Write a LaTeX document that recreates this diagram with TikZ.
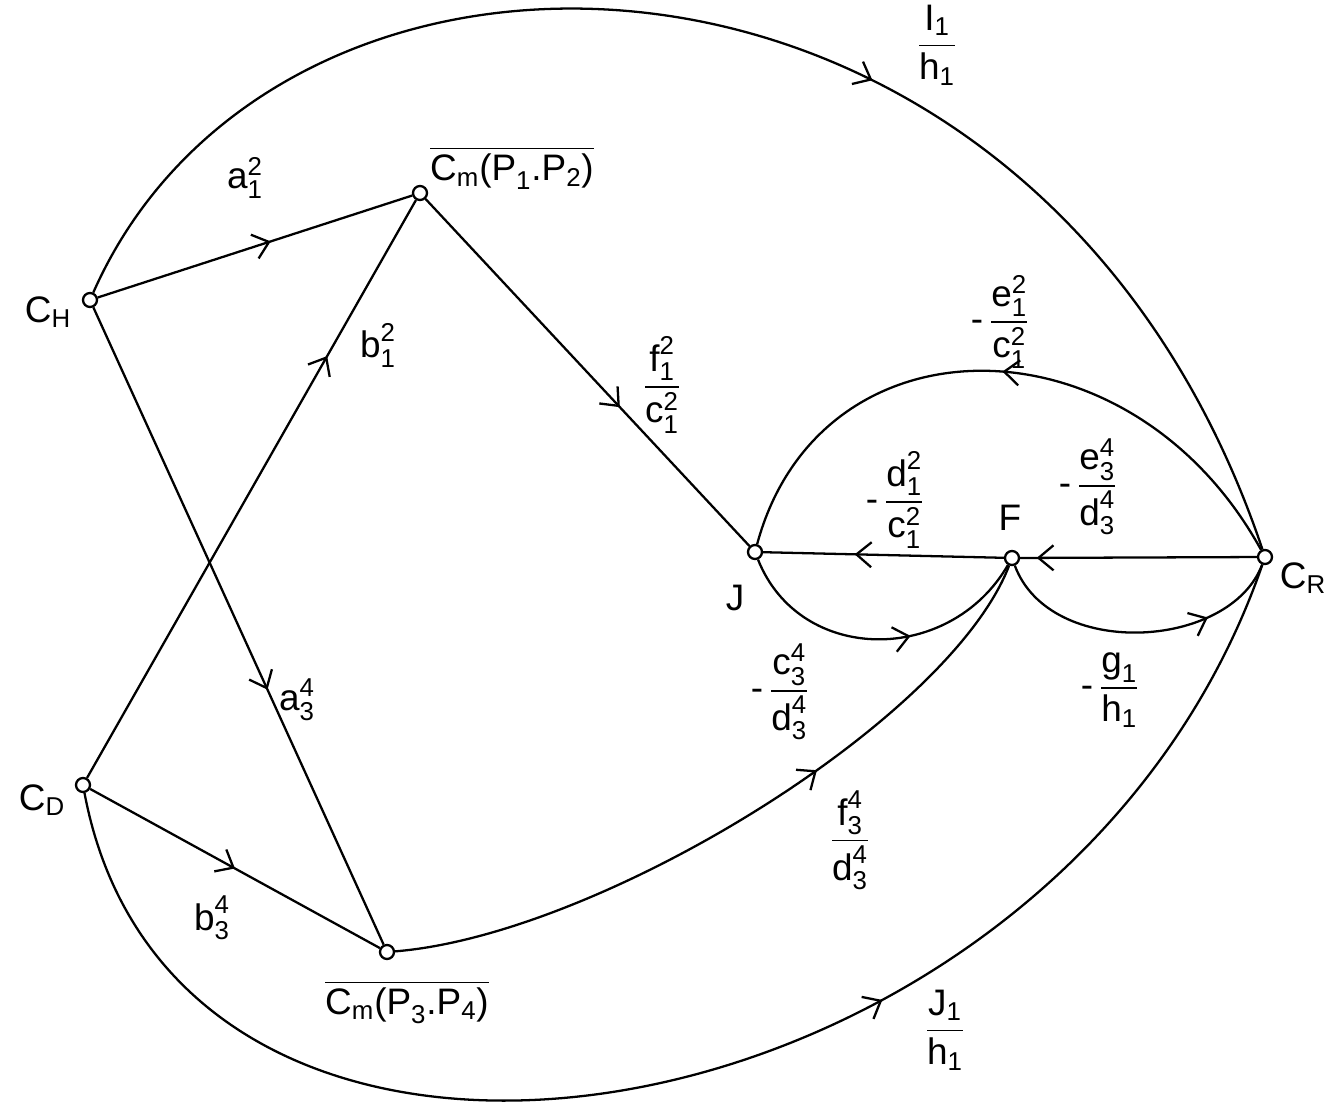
\documentclass[tikz,border=0pt]{standalone}
\usepackage{amsmath}
\usepackage{fontspec}
\setmainfont{Liberation Sans}
\usetikzlibrary{arrows.meta, decorations.markings}
\newcommand{\sv}[3]{\ensuremath{\text{#1}_{\text{#2}}^{\text{#3}}}}
\newcommand{\fr}[2]{\ensuremath{\dfrac{#1}{#2}}}
\newcommand{\nfr}[2]{\ensuremath{\text{-}\,\dfrac{#1}{#2}}}
\tikzset{
  every picture/.style={line width=1.3pt},
  vtx/.style={circle, draw, fill=white, minimum size=0.28cm, inner sep=0pt},
  lab/.style={font=\fontsize{21}{25}\selectfont, inner sep=1pt},
  edge/.style={draw, line width=1.3pt},
  midarrow/.style={postaction={decorate}, decoration={markings,
    mark=at position #1 with {\arrow{Straight Barb[length=3mm,width=5mm]}}}},
  midarrow/.default=0.55,
}
\begin{document}
\begin{tikzpicture}[x=0.02cm, y=-0.02cm]
  \useasboundingbox (0,0) rectangle (1336,1112);
  % vertices
  \node[vtx] (ch) at (90,300) {};
  \node[vtx] (cm12) at (420,193) {};
  \node[vtx] (j) at (755,552) {};
  \node[vtx] (f) at (1012,558) {};
  \node[vtx] (cr) at (1265,557) {};
  \node[vtx] (cd) at (83,785) {};
  \node[vtx] (cm34) at (387,952) {};
  % vertex names
  \node[lab] (lch) at (48,312) {C$_{\text{H}}$};
  \node[lab] (lcd) at (42,800) {C$_{\text{D}}$};
  \node[lab] (lcr) at (1303,578) {C$_{\text{R}}$};
  \node[lab] (lj) at (735,598) {J};
  \node[lab] (lf) at (1010,518) {F};
  \node[lab] (lcm12) at (512,168) {$\overline{\text{C}_{\text{m}}\text{(P}_{\text{1}}\text{.P}_{\text{2}}\text{)}}$};
  \node[lab] (lcm34) at (407,1002) {$\overline{\text{C}_{\text{m}}\text{(P}_{\text{3}}\text{.P}_{\text{4}}\text{)}}$};
  % straight edges
  \draw[edge, midarrow=0.55] (ch) -- (cm12);
  \draw[edge, midarrow=0.73] (cd) -- (cm12);
  \draw[edge, midarrow=0.6] (ch) -- (cm34);
  \draw[edge, midarrow=0.5] (cd) -- (cm34);
  \draw[edge, midarrow=0.6] (cm12) -- (j);
  \draw[edge, midarrow=0.62] (f) -- (j);
  \draw[edge, midarrow=0.93] (cr) -- (f);
  % curved edges
  \draw[edge, midarrow=0.59] (ch) .. controls (280,-130) and (1040,-110) .. (cr);
  \draw[edge, midarrow=0.62] (cd) .. controls (180,1300) and (1060,1150) .. (cr);
  \draw[edge, midarrow=0.5] (cr) .. controls (1130,312) and (820,312) .. (j);
  \draw[edge, midarrow=0.6] (j) .. controls (800,665) and (950,665) .. (f);
  \draw[edge, midarrow=0.74] (f) .. controls (1050,660) and (1230,650) .. (cr);
  \draw[edge, midarrow=0.62] (cm34) .. controls (600,935) and (950,720) .. (f);
  % edge labels
  \node[lab] (la12) at (245,178) {\sv{a}{1}{2}};
  \node[lab] (lb12) at (378,345) {\sv{b}{1}{2}};
  \node[lab] (la34) at (297,700) {\sv{a}{3}{4}};
  \node[lab] (lb34) at (212,918) {\sv{b}{3}{4}};
  \node[lab] (lfc) at (662,385) {\fr{\sv{f}{1}{2}}{\sv{c}{1}{2}}};
  \node[lab] (lec) at (1000,322) {\nfr{\sv{e}{1}{2}}{\sv{c}{1}{2}}};
  \node[lab] (ldc) at (895,500) {\nfr{\sv{d}{1}{2}}{\sv{c}{1}{2}}};
  \node[lab] (led) at (1088,487) {\nfr{\sv{e}{3}{4}}{\sv{d}{3}{4}}};
  \node[lab] (lcd34) at (780,692) {\nfr{\sv{c}{3}{4}}{\sv{d}{3}{4}}};
  \node[lab] (lgh) at (1110,690) {\nfr{\sv{g}{1}{}}{\text{h}_{\text{1}}}};
  \node[lab] (lfd) at (850,840) {\fr{\sv{f}{3}{4}}{\sv{d}{3}{4}}};
  \node[lab] (lih) at (937,45) {\fr{\text{I}_{\text{1}}}{\text{h}_{\text{1}}}};
  \node[lab] (ljh) at (945,1030) {\fr{\text{J}_{\text{1}}}{\text{h}_{\text{1}}}};
\end{tikzpicture}
\end{document}
